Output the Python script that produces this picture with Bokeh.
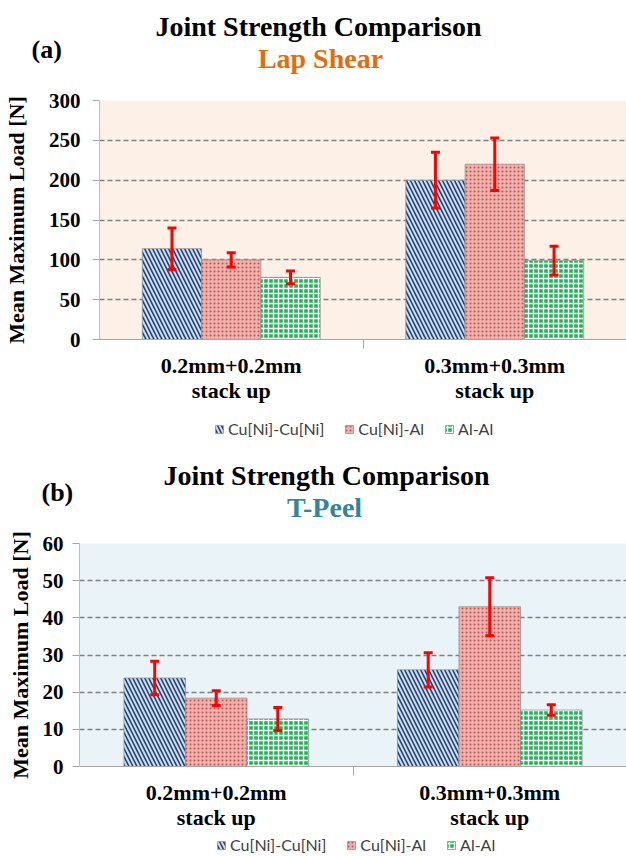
from bokeh.plotting import figure
from bokeh.models import (Range1d, FixedTicker, Whisker, TeeHead, ColumnDataSource,
                          Label, Legend, LegendItem)
from bokeh.layouts import column
from bokeh.embed import file_html
from bokeh.resources import INLINE

# ---------------- data ----------------
categories = ["0.2mm+0.2mm\nstack up", "0.3mm+0.3mm\nstack up"]
series = ["Cu[Ni]-Cu[Ni]", "Cu[Ni]-Al", "Al-Al"]

lap_cucu = [114, 200]
lap_cual = [100, 220]
lap_alal = [78, 99]
lap_cucu_err = [26, 35]
lap_cual_err = [9, 33]
lap_alal_err = [8, 18]
lap_ticks = [0, 50, 100, 150, 200, 250, 300]

peel_cucu = [23.8, 26.0]
peel_cual = [18.4, 43.0]
peel_alal = [12.8, 15.2]
peel_cucu_err = [4.5, 4.6]
peel_cual_err = [2.0, 7.8]
peel_alal_err = [3.1, 1.4]
peel_ticks = [0, 10, 20, 30, 40, 50, 60]

SERIF = "Liberation Serif"
SANS = "Lato"
W = 626

styles = [
    dict(fill_color="#C9DCF2", hatch_pattern="\\", hatch_color="#233F6E",
         hatch_scale=8, hatch_weight=1.5),
    dict(fill_color="#EDB2AE", hatch_pattern="dot", hatch_color="#C4504B",
         hatch_scale=4, hatch_weight=1),
    dict(fill_color="#1DB356", hatch_pattern="+", hatch_color="#FFFFFF",
         hatch_scale=5, hatch_weight=1.4),
]
BAR_LINE = dict(line_color="#8C8C8C", line_alpha=0.7, line_width=1)


def blank_figure(height):
    f = figure(width=W, height=height, output_backend="svg", toolbar_location=None,
               x_range=Range1d(0, W), y_range=Range1d(height, 0),
               x_axis_location=None, y_axis_location=None,
               min_border=0, frame_align=False)
    f.outline_line_color = None
    f.grid.visible = False
    f.background_fill_color = "white"
    return f


def make_header(height, title_xy, subtitle, sub_color, sub_xy, letter, letter_xy):
    h = blank_figure(height)
    h.add_layout(Label(x=title_xy[0], y=title_xy[1], text="Joint Strength Comparison",
                       text_font=SERIF, text_font_style="bold", text_font_size="28px",
                       text_color="black", text_align="center", text_baseline="middle"))
    h.add_layout(Label(x=sub_xy[0], y=sub_xy[1], text=subtitle,
                       text_font=SERIF, text_font_style="bold", text_font_size="28px",
                       text_color=sub_color, text_align="center", text_baseline="middle"))
    h.add_layout(Label(x=letter_xy[0], y=letter_xy[1], text=letter,
                       text_font=SERIF, text_font_style="bold", text_font_size="26px",
                       text_color="black", text_align="left", text_baseline="middle"))
    return h


def make_footer(height, sources, legend_x, legend_bottom_gap):
    # legend row: renderers share the chart's data sources, hidden here
    f = blank_figure(height)
    items = []
    for s, st, src in zip(series, styles, sources):
        r = f.vbar(x="x", top="top", bottom=0, width=0.225, source=src,
                   visible=False, **BAR_LINE, **st)
        items.append(LegendItem(label=s, renderers=[r]))
    legend = Legend(items=items, location=(legend_x, legend_bottom_gap),
                    orientation="horizontal",
                    border_line_color=None, background_fill_alpha=0,
                    inactive_fill_alpha=0,
                    padding=0, margin=0, spacing=20, label_standoff=4,
                    glyph_width=10, glyph_height=10, label_height=16,
                    label_text_font=SANS, label_text_font_size="16px",
                    label_text_color="#404040")
    f.add_layout(legend)
    return f


def make_chart(height, b_left, b_top, b_bottom, values, errors, ticks, bg,
               tick_standoff, label_standoff):
    p = figure(width=W, height=height, output_backend="svg", toolbar_location=None,
               x_range=Range1d(0, len(categories)), y_range=Range1d(ticks[0], ticks[-1]),
               min_border_left=b_left, min_border_right=0, min_border_top=b_top,
               min_border_bottom=b_bottom, frame_align=False)
    p.outline_line_color = None
    p.background_fill_color = bg
    p.border_fill_color = "white"

    centers = [i + 0.5 for i in range(len(categories))]
    offsets = [-0.225, 0.0, 0.225]
    sources = []
    for k, (vals, errs) in enumerate(zip(values, errors)):
        xs = [c + offsets[k] for c in centers]
        src = ColumnDataSource(dict(x=xs, top=vals,
                                    upper=[v + e for v, e in zip(vals, errs)],
                                    lower=[v - e for v, e in zip(vals, errs)]))
        sources.append(src)
        p.vbar(x="x", top="top", bottom=0, width=0.225, source=src, **BAR_LINE, **styles[k])
        w = Whisker(base="x", upper="upper", lower="lower", source=src,
                    line_color="#FF0000", line_width=3, level="overlay",
                    upper_head=TeeHead(size=9, line_color="#FF0000", line_width=3),
                    lower_head=TeeHead(size=9, line_color="#FF0000", line_width=3))
        p.add_layout(w)

    # y axis
    p.yaxis.ticker = FixedTicker(ticks=ticks, minor_ticks=[])
    p.yaxis.axis_label = "Mean Maximum Load [N]"
    p.yaxis.axis_label_text_font = SERIF
    p.yaxis.axis_label_text_font_style = "bold"
    p.yaxis.axis_label_text_font_size = "22px"
    p.yaxis.axis_label_text_color = "black"
    p.yaxis.axis_label_standoff = label_standoff
    p.yaxis.major_label_text_font = SERIF
    p.yaxis.major_label_text_font_style = "bold"
    p.yaxis.major_label_text_font_size = "21px"
    p.yaxis.major_label_text_color = "black"
    p.yaxis.major_label_standoff = tick_standoff
    p.yaxis.axis_line_color = "#BFBFBF"
    p.yaxis.major_tick_line_color = "#A6A6A6"
    p.yaxis.major_tick_out = 7
    p.yaxis.major_tick_in = 0

    # x axis
    p.xaxis.ticker = FixedTicker(ticks=centers,
                                 minor_ticks=[float(i) for i in range(1, len(categories))])
    p.xaxis.major_label_overrides = {c: lab for c, lab in zip(centers, categories)}
    p.xaxis.major_label_text_font = SERIF
    p.xaxis.major_label_text_font_style = "bold"
    p.xaxis.major_label_text_font_size = "22px"
    p.xaxis.major_label_text_color = "black"
    p.xaxis.major_label_text_line_height = 1.0
    p.xaxis.major_label_standoff = 4
    p.xaxis.major_tick_line_color = None
    p.xaxis.major_tick_out = 0
    p.xaxis.major_tick_in = 0
    p.xaxis.minor_tick_line_color = "#A6A6A6"
    p.xaxis.minor_tick_out = 9
    p.xaxis.minor_tick_in = 0
    p.xaxis.axis_line_color = "#A6A6A6"

    p.xgrid.visible = False
    p.ygrid.ticker = FixedTicker(ticks=ticks[1:], minor_ticks=[])
    p.ygrid.grid_line_color = "#7F7F7F"
    p.ygrid.grid_line_dash = "5 3"
    p.ygrid.grid_line_width = 1.3
    return p, sources


# page layout (px): header_a 0-85, chart_a 85-418, footer_a 418-442,
#                   header_b 442-522, chart_b 522-832, footer_b 832-856
ha = make_header(85, (318, 26), "Lap Shear", "#E46C0A", (320, 58), "(a)", (31, 49))
pa, src_a = make_chart(333, 99, 15, 79,
                       [lap_cucu, lap_cual, lap_alal],
                       [lap_cucu_err, lap_cual_err, lap_alal_err],
                       lap_ticks, "#FDF0E7", 12, 17)
fa = make_footer(24, src_a, 214, 4)
hb = make_header(80, (326, 33), "T-Peel", "#31859C", (324, 65), "(b)", (41, 50))
pb, src_b = make_chart(310, 79, 21, 66,
                       [peel_cucu, peel_cual, peel_alal],
                       [peel_cucu_err, peel_cual_err, peel_alal_err],
                       peel_ticks, "#EAF4F8", 9, 7)
fb = make_footer(24, src_b, 216, 2)

layout = column(ha, pa, fa, hb, pb, fb, spacing=0)
open("out.html", "w").write(file_html(layout, INLINE))
